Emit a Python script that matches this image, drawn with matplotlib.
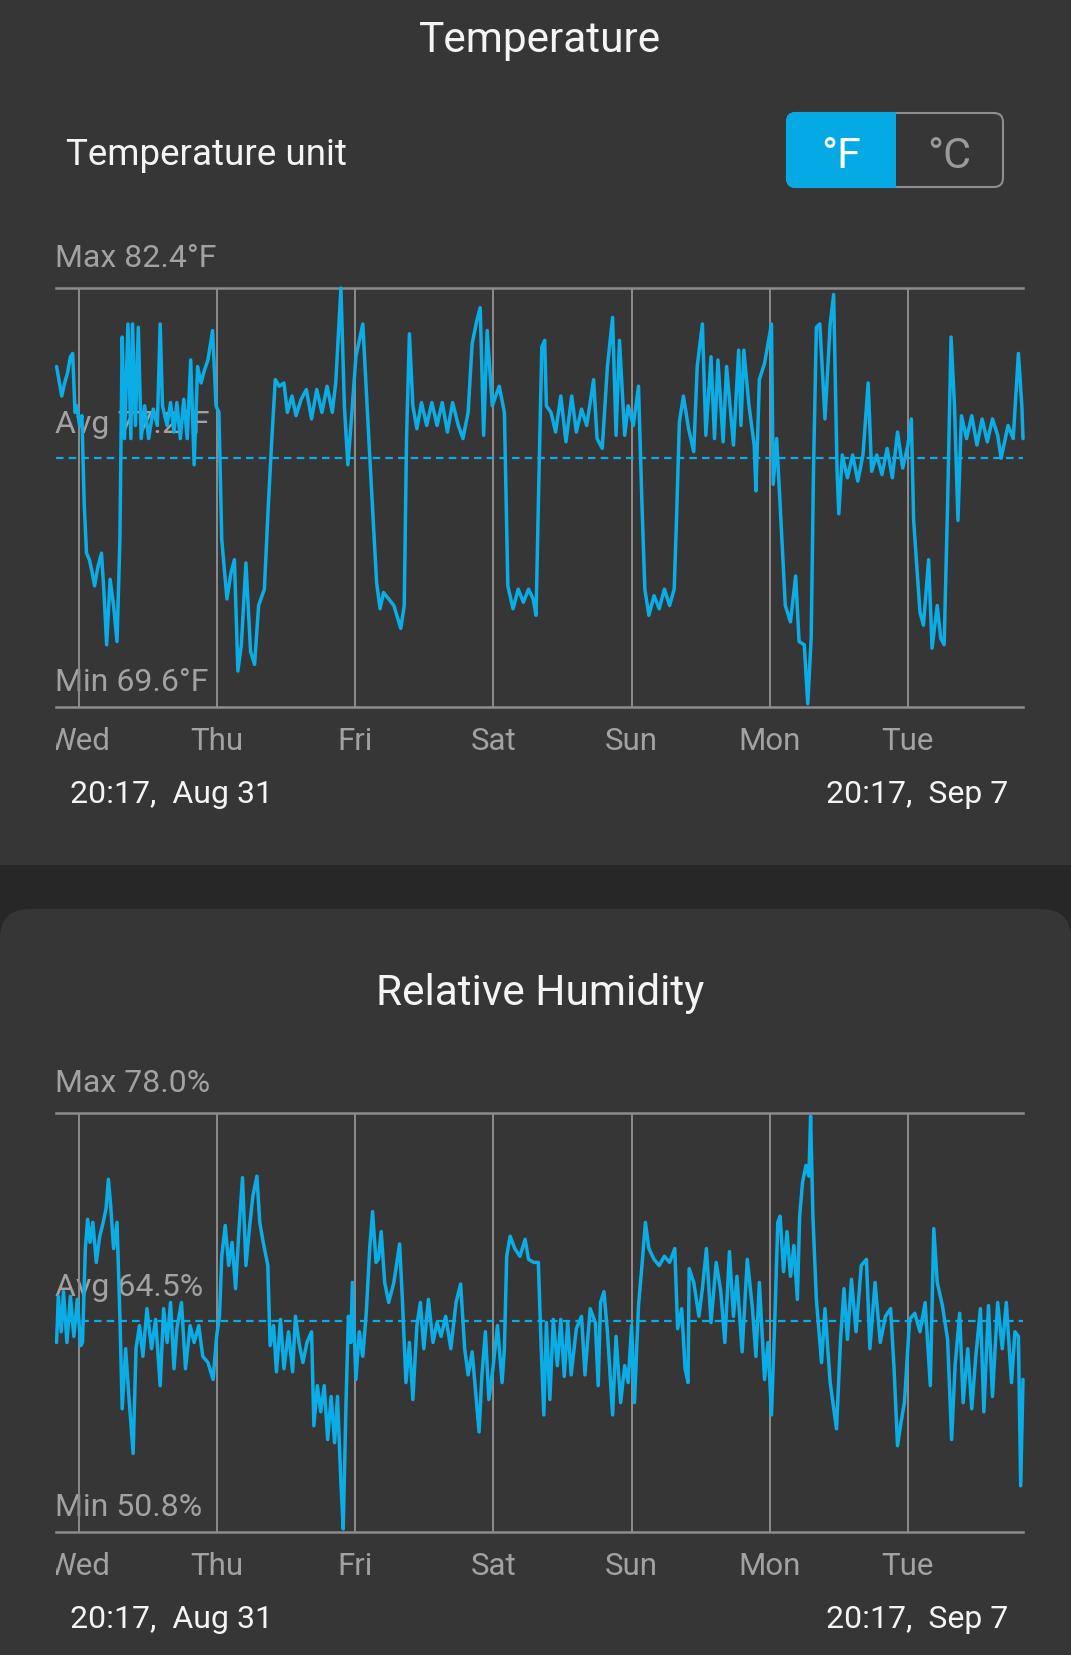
import matplotlib.pyplot as plt
from matplotlib.patches import FancyBboxPatch, Rectangle
from matplotlib.transforms import Bbox, blended_transform_factory

plt.rcParams['font.family'] = ['Roboto', 'DejaVu Sans']

# canvas size in pixels
W, H = 1071, 1656
BG = '#363636'
BAND = '#272727'
GRID = '#8c8c8c'
LABEL = '#a2a2a2'
WHITE = '#f4f4f4'
BLUE = '#05aae4'
LINE = '#0aade6'

# x axis: hours since 20:17 Aug 31
day_names = ['Wed', 'Thu', 'Fri', 'Sat', 'Sun', 'Mon', 'Tue']
day_hours = [4, 28, 52, 76, 100, 124, 148]
span_hours = 168
start_label = '20:17,  Aug 31'
end_label = '20:17,  Sep 7'

# temperature (°F)
temp_hours = [
    0.1, 0.5, 1.0, 1.5, 2.0, 2.5, 2.9, 3.3, 3.6, 4.1,
    4.5, 4.9, 5.3, 5.8, 6.3, 6.7, 7.3, 7.9, 8.3, 8.8,
    9.4, 10.0, 10.6, 11.1, 11.5, 11.9, 12.5, 13.0, 13.3, 13.8,
    14.3, 14.8, 15.4, 16.1, 16.9, 17.6, 18.1, 18.5, 19.3, 19.9,
    20.5, 21.0, 21.6, 22.2, 22.8, 23.4, 24.0, 24.6, 25.2, 25.8,
    26.4, 27.2, 27.8, 28.3, 28.8, 29.7, 30.4, 31.0, 31.6, 32.2,
    33.0, 33.8, 34.5, 35.2, 36.2, 36.9, 37.5, 38.1, 38.8, 39.6,
    40.2, 41.0, 41.7, 42.6, 43.5, 44.4, 45.3, 46.2, 47.1, 48.0,
    48.6, 49.5, 50.1, 50.7, 51.2, 52.1, 53.3, 53.9, 54.8, 55.7,
    56.3, 56.9, 57.8, 58.7, 59.9, 60.5, 60.9, 61.4, 62.0, 62.7,
    63.5, 64.4, 65.3, 66.2, 67.1, 68.0, 68.9, 69.9, 70.7, 71.6,
    72.3, 73.1, 73.7, 74.3, 74.9, 75.8, 77.0, 77.9, 78.5, 79.4,
    80.3, 81.2, 82.1, 82.9, 83.4, 83.8, 84.4, 84.9, 85.2, 86.0,
    86.8, 87.7, 88.6, 89.6, 90.4, 91.3, 92.2, 93.4, 94.0, 94.9,
    95.8, 96.7, 97.3, 97.9, 98.8, 99.4, 100.3, 101.2, 101.8, 102.3,
    103.0, 103.9, 104.8, 105.7, 106.6, 107.4, 107.8, 108.3, 109.0, 109.9,
    110.8, 111.4, 112.3, 112.9, 113.8, 114.4, 115.0, 115.9, 116.5, 117.7,
    118.6, 119.0, 119.5, 120.4, 121.3, 121.6, 122.2, 123.1, 124.3, 124.6,
    125.2, 125.8, 126.7, 127.6, 128.5, 129.1, 130.0, 130.6, 131.2, 131.6,
    132.1, 132.7, 133.6, 134.5, 135.1, 135.7, 136.0, 136.6, 137.5, 138.4,
    139.3, 140.2, 141.1, 141.7, 142.6, 143.5, 144.4, 145.3, 146.2, 147.1,
    148.0, 148.6, 149.0, 150.1, 150.7, 151.6, 152.2, 153.1, 153.7, 154.3,
    154.9, 155.5, 156.1, 156.7, 157.3, 158.2, 159.1, 160.0, 160.9, 161.8,
    162.7, 163.6, 164.2, 165.4, 166.3, 167.2, 167.8, 168.0,
]
temp_f = [
    80.0, 79.6, 79.1, 79.5, 79.8, 80.3, 80.4, 78.6, 78.8, 78.2,
    78.5, 75.8, 74.3, 74.1, 73.7, 73.3, 73.9, 74.3, 73.2, 71.5,
    73.5, 72.7, 71.6, 74.7, 80.9, 77.8, 81.3, 77.8, 81.3, 78.2,
    81.2, 77.8, 78.8, 77.8, 78.7, 78.2, 81.3, 78.8, 78.2, 78.9,
    78.0, 78.9, 77.8, 79.0, 77.8, 80.2, 77.0, 80.0, 79.5, 79.9,
    80.2, 81.1, 78.8, 78.6, 74.7, 72.9, 73.7, 74.1, 70.7, 71.5,
    74.0, 71.3, 70.9, 72.7, 73.2, 75.8, 77.8, 79.6, 79.4, 79.5,
    78.6, 79.1, 78.5, 79.0, 79.3, 78.4, 79.3, 78.6, 79.4, 78.6,
    79.5, 82.4, 78.8, 77.0, 78.1, 80.3, 81.3, 79.3, 76.3, 73.4,
    72.6, 73.1, 72.9, 72.7, 72.0, 72.7, 77.8, 81.0, 78.8, 78.1,
    78.9, 78.2, 78.9, 78.2, 78.9, 78.0, 78.9, 78.2, 77.8, 78.6,
    80.7, 81.4, 81.8, 77.9, 81.1, 78.8, 79.4, 78.6, 73.3, 72.6,
    73.2, 72.8, 73.2, 72.9, 72.4, 75.8, 80.6, 80.8, 78.8, 78.6,
    78.0, 79.1, 77.7, 79.1, 78.0, 78.7, 78.2, 79.6, 77.8, 77.5,
    80.0, 81.5, 77.9, 80.8, 77.9, 78.8, 78.2, 79.4, 75.8, 73.2,
    72.4, 73.0, 72.6, 73.2, 72.7, 73.2, 75.3, 78.3, 79.1, 78.1,
    77.4, 80.0, 81.3, 77.9, 80.3, 77.8, 80.2, 77.7, 80.0, 77.6,
    80.5, 78.2, 80.5, 78.8, 77.6, 76.2, 79.6, 80.1, 81.3, 76.4,
    77.8, 75.8, 72.7, 72.2, 73.6, 71.6, 71.5, 69.7, 71.7, 76.8,
    81.2, 81.3, 78.4, 81.3, 82.2, 76.8, 75.5, 77.3, 76.6, 77.3,
    76.5, 77.3, 79.5, 76.8, 77.3, 76.7, 77.5, 76.6, 78.0, 76.9,
    77.6, 78.4, 75.3, 72.5, 72.1, 74.1, 71.4, 72.7, 71.7, 71.5,
    75.8, 80.9, 78.8, 75.3, 78.5, 77.8, 78.5, 77.6, 78.4, 77.7,
    78.4, 77.9, 77.2, 78.2, 77.8, 80.4, 78.8, 77.8,
]
temp_max, temp_avg, temp_min = 82.4, 77.2, 69.6

# relative humidity (%)
hum_hours = [
    0.1, 0.4, 0.9, 1.3, 1.9, 2.5, 3.1, 3.7, 4.3, 4.6,
    5.1, 5.5, 5.9, 6.4, 7.0, 7.6, 8.2, 8.7, 9.1, 9.5,
    10.0, 10.6, 11.1, 11.5, 12.1, 12.7, 13.4, 13.9, 14.5, 15.1,
    15.8, 16.6, 17.3, 18.1, 18.7, 19.3, 19.9, 20.5, 21.0, 21.8,
    22.5, 23.3, 24.0, 24.8, 25.5, 26.4, 27.3, 27.9, 28.4, 28.8,
    29.4, 30.0, 30.6, 31.2, 31.8, 32.4, 33.0, 33.6, 34.2, 34.9,
    35.4, 36.0, 36.8, 37.2, 37.8, 38.3, 39.0, 39.6, 40.4, 41.1,
    41.6, 42.3, 42.9, 43.6, 44.4, 44.8, 45.4, 46.0, 46.6, 47.2,
    47.8, 48.4, 48.9, 49.5, 49.9, 50.4, 50.8, 51.2, 51.5, 52.1,
    52.7, 53.3, 53.9, 54.5, 55.0, 55.6, 56.0, 56.5, 57.1, 57.8,
    58.7, 59.7, 60.2, 60.8, 61.4, 62.0, 62.7, 63.3, 63.9, 64.7,
    65.5, 66.2, 66.9, 67.7, 68.6, 69.5, 70.3, 71.0, 71.6, 72.3,
    73.1, 73.5, 74.0, 74.6, 75.2, 75.9, 76.7, 77.5, 77.9, 78.3,
    78.9, 79.7, 80.6, 81.5, 82.1, 83.0, 83.8, 84.3, 84.75, 85.2,
    85.8, 86.4, 87.1, 87.7, 88.3, 88.9, 89.5, 90.4, 91.3, 91.9,
    92.8, 93.7, 94.2, 94.6, 95.2, 95.8, 96.7, 97.3, 98.1, 98.8,
    99.4, 100.0, 100.5, 101.2, 101.8, 102.4, 103.0, 103.9, 104.8, 105.7,
    106.6, 107.5, 108.0, 108.7, 109.3, 109.8, 110.0, 110.8, 111.7, 112.3,
    113.0, 113.8, 114.7, 115.5, 116.2, 117.0, 117.7, 118.3, 119.2, 120.1,
    121.0, 121.6, 122.2, 123.1, 123.7, 124.3, 124.9, 125.4, 125.8, 126.4,
    127.0, 127.6, 128.2, 128.8, 129.2, 129.7, 130.3, 130.8, 131.1, 131.5,
    132.1, 133.0, 133.6, 134.5, 135.6, 136.3, 136.9, 137.5, 138.2, 139.0,
    139.9, 140.8, 141.4, 142.3, 143.2, 144.1, 145.0, 145.6, 146.2, 146.8,
    147.4, 148.3, 149.2, 150.1, 151.0, 151.9, 152.5, 153.1, 154.0, 154.9,
    155.6, 156.2, 157.0, 157.6, 158.4, 159.1, 159.8, 160.6, 161.2, 162.0,
    162.7, 163.6, 164.4, 165.1, 166.0, 166.6, 167.2, 167.6, 168.0,
]
hum_pct = [
    63.1, 66.1, 63.8, 66.4, 63.1, 66.1, 63.5, 65.9, 62.9, 63.1,
    69.2, 71.1, 69.6, 70.9, 68.3, 70.0, 70.9, 71.8, 73.7, 72.0,
    69.2, 70.9, 64.8, 58.8, 62.7, 59.4, 55.9, 62.7, 64.2, 62.2,
    65.3, 62.7, 64.6, 60.3, 65.3, 63.1, 65.7, 61.4, 64.0, 65.7,
    61.4, 64.2, 63.1, 64.2, 62.2, 61.8, 60.7, 63.5, 64.8, 68.7,
    70.7, 68.1, 69.6, 66.6, 70.5, 73.8, 68.1, 70.5, 72.6, 73.9,
    70.9, 69.6, 68.1, 62.9, 64.2, 61.2, 64.6, 61.4, 63.8, 61.2,
    64.8, 62.9, 61.8, 63.1, 63.8, 57.7, 60.3, 58.6, 60.3, 56.8,
    59.6, 56.6, 59.6, 54.0, 51.0, 59.4, 64.8, 63.1, 67.0, 60.7,
    63.8, 62.2, 65.0, 69.2, 71.6, 68.3, 68.5, 70.3, 67.0, 65.7,
    67.0, 69.5, 65.7, 60.5, 63.1, 59.4, 64.2, 65.7, 62.7, 65.9,
    63.1, 64.4, 63.5, 64.8, 62.7, 65.7, 66.9, 62.7, 61.0, 62.5,
    59.0, 57.3, 61.0, 63.8, 59.4, 61.4, 64.2, 60.5, 62.7, 68.7,
    70.0, 69.2, 68.7, 69.8, 68.5, 68.3, 68.3, 62.7, 58.4, 64.4,
    59.4, 64.6, 61.6, 64.6, 60.9, 64.4, 61.0, 64.0, 64.8, 61.0,
    65.3, 64.4, 60.3, 65.7, 66.4, 63.8, 58.4, 63.5, 59.2, 61.6,
    60.5, 64.2, 59.2, 65.5, 68.1, 70.9, 69.2, 68.5, 68.1, 68.7,
    68.3, 69.2, 64.0, 65.3, 61.4, 60.5, 67.9, 67.0, 64.8, 66.6,
    69.2, 64.4, 68.3, 66.4, 63.1, 69.0, 64.8, 67.4, 62.5, 68.5,
    65.3, 62.2, 67.0, 60.7, 63.1, 58.4, 64.8, 70.9, 71.3, 67.7,
    70.3, 67.4, 69.4, 65.9, 71.3, 73.5, 74.6, 73.9, 77.8, 71.3,
    65.9, 61.8, 65.3, 60.5, 57.5, 63.3, 66.6, 63.3, 67.2, 63.8,
    68.1, 68.5, 62.7, 67.0, 63.1, 64.8, 65.3, 61.4, 56.4, 57.9,
    59.2, 64.6, 65.0, 63.8, 65.7, 60.3, 70.5, 67.0, 65.5, 63.3,
    56.8, 61.6, 65.0, 59.2, 62.7, 58.8, 62.2, 65.3, 58.6, 65.5,
    59.6, 65.7, 62.7, 65.7, 60.5, 63.8, 63.5, 53.8, 60.7,
]
hum_max, hum_avg, hum_min = 78.0, 64.5, 50.8

# plot area edges in pixels
PL, PR = 56, 1023

fig = plt.figure(figsize=(W / 100, H / 100), dpi=100, facecolor=BG)

# full-canvas pixel axes for cards, texts and the unit toggle
bg = fig.add_axes([0, 0, 1, 1], zorder=0)
bg.set_xlim(0, W)
bg.set_ylim(H, 0)
bg.axis('off')

bg.add_patch(Rectangle((0, 866), W, 90, color=BAND, lw=0))
bg.add_patch(FancyBboxPatch((0, 910), W, 900, boxstyle='round,pad=0,rounding_size=30',
                            fc=BG, ec='none'))

bg.text(540, 52, 'Temperature', color=WHITE, fontsize=30.5, ha='center', va='baseline')
bg.text(540, 1005, 'Relative Humidity', color=WHITE, fontsize=30.5, ha='center', va='baseline')
bg.text(66, 165, 'Temperature unit', color=WHITE, fontsize=26.5, ha='left', va='baseline')

# unit toggle
bg.add_patch(FancyBboxPatch((787, 114), 216, 74, boxstyle='round,pad=0,rounding_size=9',
                            fc='none', ec='#8e8e8e', lw=1.5))
sel = FancyBboxPatch((787, 114), 216, 74, boxstyle='round,pad=0,rounding_size=9',
                     fc=BLUE, ec=BLUE, lw=1.5)
bg.add_patch(sel)
sel.set_clip_path(Rectangle((770, 100), 126, 110, transform=bg.transData))
bg.text(841, 168, '°F', color='white', fontsize=31, ha='center', va='baseline')
bg.text(949, 168, '°C', color='#9a9a9a', fontsize=31, ha='center', va='baseline')


def chart(top, bottom, hours, values, vmin, vmax, vavg, unit):
    ax = fig.add_axes([PL / W, 1 - bottom / H, (PR - PL) / W, (bottom - top) / H], zorder=2)
    ax.set_xlim(0, span_hours)
    ax.set_ylim(vmin, vmax)
    ax.axis('off')

    ax.axhline(vmax, color=GRID, lw=1.8, clip_on=False)
    ax.axhline(vmin, color=GRID, lw=1.8, clip_on=False)
    ax.vlines(day_hours, vmin, vmax, color=GRID, lw=1.4)
    ax.axhline(vavg, color=LINE, lw=1.6, dashes=(3.4, 2.3))
    ax.plot(hours, values, color=LINE, lw=2.5, clip_on=False,
            solid_joinstyle='round', solid_capstyle='round')

    # stat labels sit under the trace
    avg_y = top + (vmax - vavg) / (vmax - vmin) * (bottom - top)
    bg.text(55, top - 22, f'Max {vmax:.1f}{unit}', color=LABEL, fontsize=23, va='baseline')
    bg.text(55, avg_y - 26, f'Avg {vavg:.1f}{unit}', color=LABEL, fontsize=23, va='baseline')
    bg.text(55, bottom - 17, f'Min {vmin:.1f}{unit}', color=LABEL, fontsize=23, va='baseline')

    # day names, cut at the plot edges
    tr = blended_transform_factory(ax.transData, bg.transData)
    clip = Bbox([[PL, 0], [PR, H]])
    for name, h in zip(day_names, day_hours):
        t = ax.text(h, bottom + 42, name, transform=tr, color=LABEL, fontsize=22.5,
                    ha='center', va='baseline')
        t.set_clip_box(clip)
        t.set_clip_on(True)

    bg.text(70, bottom + 95, start_label, color=WHITE, fontsize=23, ha='left', va='baseline')
    bg.text(1008, bottom + 95, end_label, color=WHITE, fontsize=23, ha='right', va='baseline')


chart(289, 708, temp_hours, temp_f, temp_min, temp_max, temp_avg, '°F')
chart(1114, 1533, hum_hours, hum_pct, hum_min, hum_max, hum_avg, '%')

fig.savefig('out.png', dpi=100, facecolor=BG)
